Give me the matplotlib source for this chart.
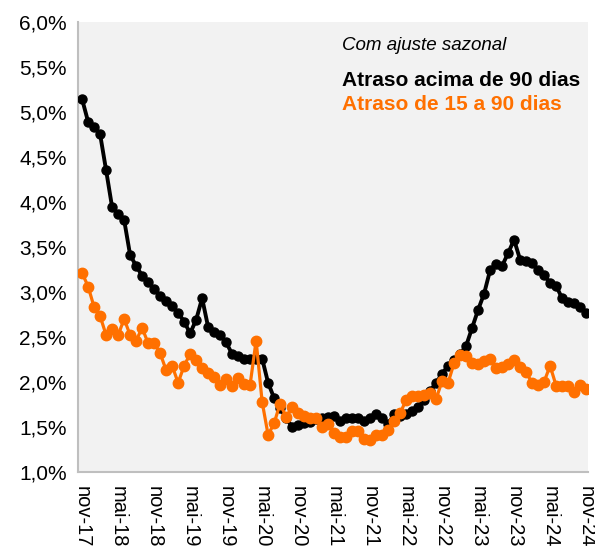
import matplotlib.pyplot as plt

plt.rcParams['font.family'] = ['Liberation Sans', 'DejaVu Sans']

# monthly, nov-17 .. nov-24, % of portfolio
acima_90 = [5.14, 4.89, 4.83, 4.75, 4.35, 3.94, 3.87, 3.80, 3.41, 3.29,
            3.18, 3.11, 3.03, 2.96, 2.90, 2.84, 2.77, 2.67, 2.54, 2.69,
            2.93, 2.61, 2.56, 2.52, 2.44, 2.31, 2.29, 2.26, 2.26, 2.25,
            2.26, 1.99, 1.82, 1.71, 1.60, 1.50, 1.52, 1.54, 1.56, 1.59,
            1.60, 1.61, 1.62, 1.57, 1.60, 1.60, 1.60, 1.57, 1.60, 1.64,
            1.60, 1.53, 1.64, 1.62, 1.64, 1.68, 1.72, 1.80, 1.90, 1.99,
            2.09, 2.18, 2.24, 2.31, 2.40, 2.60, 2.80, 2.98, 3.24, 3.31,
            3.29, 3.43, 3.58, 3.36, 3.34, 3.32, 3.24, 3.19, 3.10, 3.07,
            2.93, 2.89, 2.88, 2.83, 2.77]

de15_90 = [3.21, 3.06, 2.83, 2.73, 2.52, 2.59, 2.52, 2.70, 2.52, 2.46,
           2.60, 2.43, 2.43, 2.32, 2.13, 2.18, 1.99, 2.18, 2.31, 2.24,
           2.15, 2.10, 2.05, 1.97, 2.03, 1.96, 2.04, 1.98, 1.97, 2.46,
           1.78, 1.41, 1.54, 1.76, 1.61, 1.72, 1.65, 1.62, 1.60, 1.60,
           1.50, 1.53, 1.43, 1.39, 1.39, 1.46, 1.45, 1.37, 1.36, 1.41,
           1.41, 1.47, 1.57, 1.65, 1.80, 1.84, 1.84, 1.86, 1.88, 1.81,
           2.01, 1.99, 2.21, 2.30, 2.29, 2.21, 2.20, 2.23, 2.25, 2.16,
           2.17, 2.20, 2.24, 2.17, 2.11, 1.99, 1.97, 2.00, 2.18, 1.96,
           1.95, 1.96, 1.89, 1.97, 1.92]

tick_labels = ["nov-17", "mai-18", "nov-18", "mai-19", "nov-19", "mai-20",
               "nov-20", "mai-21", "nov-21", "mai-22", "nov-22", "mai-23",
               "nov-23", "mai-24", "nov-24"]
y_ticks = [1.0, 1.5, 2.0, 2.5, 3.0, 3.5, 4.0, 4.5, 5.0, 5.5, 6.0]

orange = "#FF7000"
x = list(range(len(acima_90)))

fig = plt.figure(figsize=(5.95, 5.5), dpi=100)
ax = fig.add_axes([0.131, 0.142, 0.857, 0.818])
ax.set_facecolor("#F2F2F2")

ax.plot(x, acima_90, color="black", lw=2.8, marker="o", ms=6.5, zorder=3)
ax.plot(x, de15_90, color=orange, lw=2.3, marker="o", ms=7.5, zorder=4)

ax.set_xlim(-0.7, 84.3)
ax.set_ylim(1.0, 6.0)
ax.set_yticks(y_ticks)
ax.set_yticklabels([f"{v:.1f}%".replace(".", ",") for v in y_ticks], fontsize=15)
ax.set_xticks(range(0, len(x), 6))
ax.set_xticklabels(tick_labels, rotation=270, fontsize=14.5)
ax.tick_params(axis="y", length=0, pad=8)
ax.tick_params(axis="x", length=0, pad=10)

for s in ["top", "right"]:
    ax.spines[s].set_visible(False)
for s in ["left", "bottom"]:
    ax.spines[s].set_color("#BFBFBF")
    ax.spines[s].set_linewidth(1.5)

ax.text(0.518, 0.948, "Com ajuste sazonal", transform=ax.transAxes,
        fontsize=13.5, style="italic", va="center")
ax.text(0.518, 0.870, "Atraso acima de 90 dias", transform=ax.transAxes,
        fontsize=15, fontweight="bold", va="center")
ax.text(0.518, 0.817, "Atraso de 15 a 90 dias", transform=ax.transAxes,
        fontsize=15, fontweight="bold", color=orange, va="center")

fig.savefig("out.png")
